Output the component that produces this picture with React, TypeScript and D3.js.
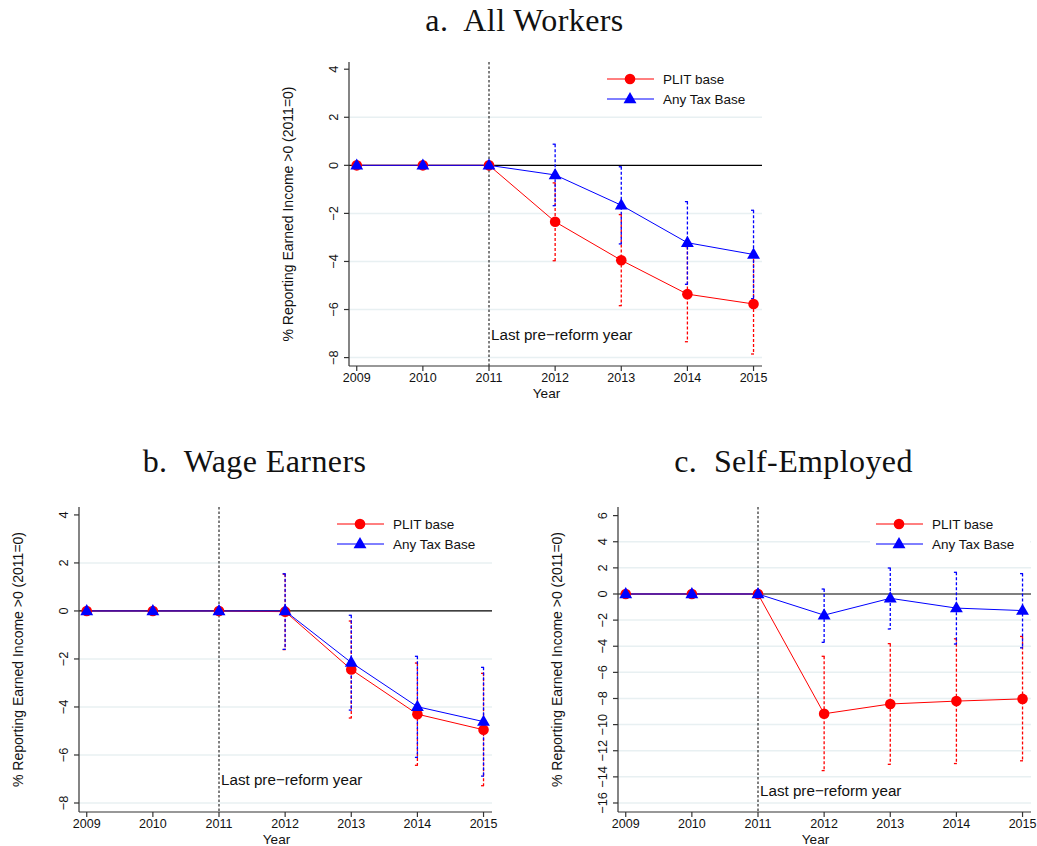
import React from "react";
import * as d3 from "d3";

// Event-study estimates: % reporting earned income > 0, relative to 2011
const years = [2009, 2010, 2011, 2012, 2013, 2014, 2015];

// a. All Workers
const allPlit = [0, 0, 0, -2.35, -3.95, -5.36, -5.77];
const allPlitLo = [null, null, null, -3.97, -5.84, -7.34, -7.85];
const allPlitHi = [null, null, null, -0.73, -2.05, -3.38, -3.69];
const allAny = [0, 0, 0, -0.4, -1.66, -3.22, -3.71];
const allAnyLo = [null, null, null, -1.68, -3.27, -4.95, -5.55];
const allAnyHi = [null, null, null, 0.88, -0.06, -1.51, -1.87];

// b. Wage Earners
const wagePlit = [0, 0, 0, -0.03, -2.44, -4.3, -4.95];
const wagePlitLo = [null, null, null, -1.61, -4.46, -6.43, -7.28];
const wagePlitHi = [null, null, null, 1.53, -0.42, -2.17, -2.6];
const wageAny = [0, 0, 0, 0, -2.15, -3.99, -4.61];
const wageAnyLo = [null, null, null, -1.6, -4.13, -6.1, -6.88];
const wageAnyHi = [null, null, null, 1.55, -0.18, -1.89, -2.35];

// c. Self-Employed
const selfPlit = [0, 0, 0, -9.17, -8.42, -8.2, -8.03];
const selfPlitLo = [null, null, null, -13.52, -13.04, -12.98, -12.77];
const selfPlitHi = [null, null, null, -4.77, -3.8, -3.43, -3.25];
const selfAny = [0, 0, 0, -1.62, -0.33, -1.08, -1.27];
const selfAnyLo = [null, null, null, -3.7, -2.68, -3.83, -4.12];
const selfAnyHi = [null, null, null, 0.38, 1.99, 1.66, 1.56];

const ticksSmall = [-8, -6, -4, -2, 0, 2, 4];
const ticksWide = [-16, -14, -12, -10, -8, -6, -4, -2, 0, 2, 4, 6];

const legendLabels = ["PLIT base", "Any Tax Base"];
const yTitle = "% Reporting Earned Income >0 (2011=0)";
const annotation = "Last pre\u2212reform year";
const reformYear = 2011;

const RED = "#ff0000";
const BLUE = "#0000ff";
const GRID = "#e8f0f2";
const SANS = "'Liberation Sans', Arial, Helvetica, sans-serif";
const SERIF = "'Liberation Serif', 'Times New Roman', serif";

type Series = {
  est: number[];
  lo: (number | null)[];
  hi: (number | null)[];
  color: string;
  shape: "circle" | "triangle";
};

type PanelProps = {
  title: string;
  left: number;
  right: number;
  top: number;
  bottom: number;
  yDomain: [number, number];
  ticks: number[];
  noteY: number;
  series: Series[];
};

const fmt = (v: number) => (v < 0 ? "\u2212" + Math.abs(v) : String(v));

function Marker({ x, y, shape, color }: { x: number; y: number; shape: string; color: string }) {
  if (shape === "circle") return <circle cx={x} cy={y} r={5.3} fill={color} />;
  const tri = d3.symbol(d3.symbolTriangle, 72)() as string;
  return <path d={tri} transform={`translate(${x},${y + 0.5})`} fill={color} />;
}

function Panel({ title, left, right, top, bottom, yDomain, ticks, noteY, series }: PanelProps) {
  const x = d3.scaleLinear().domain([2008.883, 2015.128]).range([left, right]);
  const y = d3.scaleLinear().domain(yDomain).range([bottom, top]);
  const line = d3
    .line<number>()
    .x((_, i) => x(years[i]))
    .y((d) => y(d));
  const topTick = d3.max(ticks) as number;
  const titleX = (left - 62 + right) / 2;
  const midY = (top + bottom) / 2;
  const axisColor = "#333";

  return (
    <g>
      <text
        x={titleX}
        y={top - (top > 100 ? 35 : 31)}
        textAnchor="middle"
        fontFamily={SERIF}
        fontSize={32}
        letterSpacing={0.4}
        fill="#111"
      >
        {title}
      </text>

      {/* grid */}
      {ticks
        .filter((t) => t !== 0 && t !== topTick)
        .map((t) => (
          <line key={t} x1={left} x2={right} y1={y(t)} y2={y(t)} stroke={GRID} strokeWidth={1.5} />
        ))}

      {/* reference line at zero */}
      <line x1={left} x2={right} y1={y(0)} y2={y(0)} stroke="#000" strokeWidth={1.2} />

      {/* last pre-reform year */}
      <line
        x1={x(reformYear)}
        x2={x(reformYear)}
        y1={top}
        y2={bottom}
        stroke="#000"
        strokeWidth={1}
        strokeDasharray="2.5,2"
      />
      <text x={x(reformYear) + 2} y={y(noteY)} dominantBaseline="central" fontFamily={SANS} fontSize={15.2} fill="#111">
        {annotation}
      </text>

      {/* confidence intervals */}
      {series.map((s, si) =>
        years.map((yr, i) => {
          const lo = s.lo[i];
          const hi = s.hi[i];
          if (lo == null || hi == null) return null;
          const cx = x(yr);
          return (
            <g key={`ci${si}-${i}`} stroke={s.color} strokeWidth={1.3} fill="none">
              <line x1={cx} x2={cx} y1={y(hi)} y2={y(lo)} strokeDasharray="3,2" />
              <line x1={cx - 2.5} x2={cx + 0.5} y1={y(hi)} y2={y(hi)} />
              <line x1={cx - 2.5} x2={cx + 0.5} y1={y(lo)} y2={y(lo)} />
            </g>
          );
        })
      )}

      {/* connected estimates */}
      {series.map((s, si) => (
        <path key={`l${si}`} d={line(s.est) as string} fill="none" stroke={s.color} strokeWidth={1} />
      ))}
      {series.map((s, si) =>
        s.est.map((v, i) => <Marker key={`m${si}-${i}`} x={x(years[i])} y={y(v)} shape={s.shape} color={s.color} />)
      )}

      {/* legend */}
      <rect x={right - 161} y={top + 5} width={160} height={43} fill="#fff" />
      {series.map((s, si) => {
        const ly = Math.round(top + 17 + si * 19.5);
        return (
          <g key={`lg${si}`}>
            <line x1={right - 155} x2={right - 108} y1={ly} y2={ly} stroke={s.color} strokeWidth={1} />
            <Marker x={right - 132} y={ly} shape={s.shape} color={s.color} />
            <text x={right - 99} y={ly} dominantBaseline="central" fontFamily={SANS} fontSize={13.5} fill="#111">
              {legendLabels[si]}
            </text>
          </g>
        );
      })}

      {/* y axis */}
      <line x1={left} x2={left} y1={top} y2={bottom} stroke={axisColor} strokeWidth={1.2} />
      {ticks.map((t) => (
        <g key={`yt${t}`}>
          <line x1={left - 5} x2={left} y1={y(t)} y2={y(t)} stroke={axisColor} strokeWidth={1.2} />
          <text
            transform={`translate(${left - 16},${y(t)}) rotate(-90)`}
            textAnchor="middle"
            dominantBaseline="central"
            fontFamily={SANS}
            fontSize={12.8}
            fill="#111"
          >
            {fmt(t)}
          </text>
        </g>
      ))}
      <text
        transform={`translate(${left - 61},${midY}) rotate(-90)`}
        textAnchor="middle"
        dominantBaseline="central"
        fontFamily={SANS}
        fontSize={14}
        fill="#111"
      >
        {yTitle}
      </text>

      {/* x axis */}
      <line x1={left} x2={right} y1={bottom} y2={bottom} stroke={axisColor} strokeWidth={1.2} />
      {years.map((yr) => (
        <g key={`xt${yr}`}>
          <line x1={x(yr)} x2={x(yr)} y1={bottom} y2={bottom + 5} stroke={axisColor} strokeWidth={1.2} />
          <text x={x(yr)} y={bottom + 12} textAnchor="middle" dominantBaseline="central" fontFamily={SANS} fontSize={12.5} fill="#111">
            {yr}
          </text>
        </g>
      ))}
      <text x={(left + right) / 2 - 9} y={bottom + 27} textAnchor="middle" dominantBaseline="central" fontFamily={SANS} fontSize={13.6} fill="#111">
        Year
      </text>
    </g>
  );
}

export default function App() {
  const mk = (est: number[], lo: (number | null)[], hi: (number | null)[], color: string, shape: "circle" | "triangle"): Series => ({
    est,
    lo,
    hi,
    color,
    shape,
  });
  return (
    <svg
      width={1037}
      height={846}
      style={{ position: "absolute", left: 0, top: 0, background: "#fff" }}
    >
      <rect width={1037} height={846} fill="#fff" />
      <Panel
        title={"a.\u00a0 All Workers"}
        left={349}
        right={762}
        top={62}
        bottom={366}
        yDomain={[-8.35, 4.3]}
        ticks={ticksSmall}
        noteY={-7.05}
        series={[mk(allPlit, allPlitLo, allPlitHi, RED, "circle"), mk(allAny, allAnyLo, allAnyHi, BLUE, "triangle")]}
      />
      <Panel
        title={"b.\u00a0 Wage Earners"}
        left={79}
        right={492}
        top={507}
        bottom={812}
        yDomain={[-8.375, 4.33]}
        ticks={ticksSmall}
        noteY={-7.03}
        series={[mk(wagePlit, wagePlitLo, wagePlitHi, RED, "circle"), mk(wageAny, wageAnyLo, wageAnyHi, BLUE, "triangle")]}
      />
      <Panel
        title={"c.\u00a0 Self-Employed"}
        left={618}
        right={1031}
        top={507}
        bottom={812}
        yDomain={[-16.69, 6.66]}
        ticks={ticksWide}
        noteY={-15.06}
        series={[mk(selfPlit, selfPlitLo, selfPlitHi, RED, "circle"), mk(selfAny, selfAnyLo, selfAnyHi, BLUE, "triangle")]}
      />
    </svg>
  );
}
